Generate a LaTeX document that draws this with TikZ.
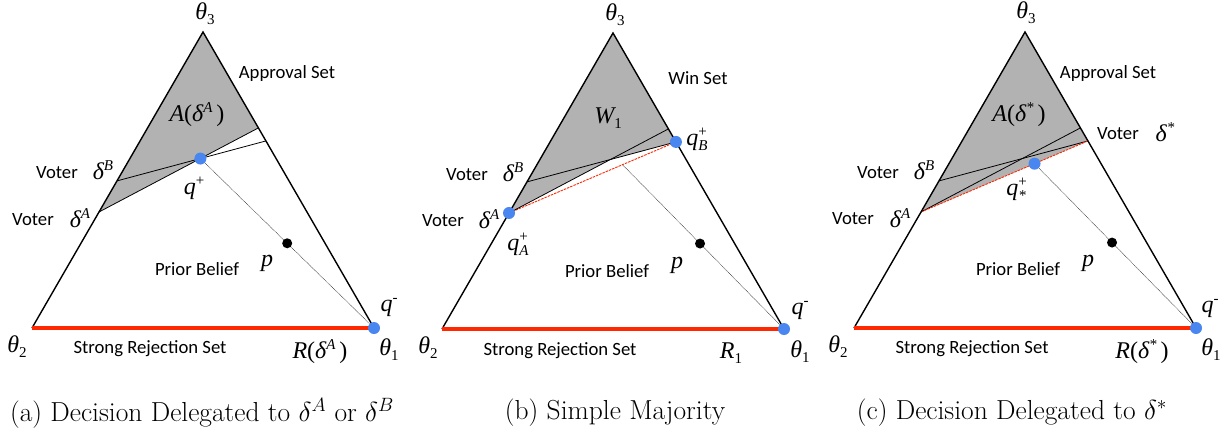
\documentclass[tikz,border=0pt]{standalone}
\usepackage{fix-cm}
\usepackage{fontspec}
\usetikzlibrary{calc}
\newfontfamily\tms{Liberation Serif}
\newfontfamily\cbr{Carlito}
\definecolor{greyfill}{RGB}{178,178,178}
\definecolor{dotblue}{RGB}{74,134,240}
\definecolor{rejred}{RGB}{255,40,0}
\newcommand\dn[1]{\raisebox{-5pt}{\fontsize{15}{15}\selectfont #1}}
\newcommand\up[1]{\raisebox{9pt}{\fontsize{15}{15}\selectfont #1}}
\newcommand\ud[2]{\rlap{\up{#1}}\dn{#2}}
\tikzset{
  edge/.style={line width=1.4pt, line join=miter},
  sepline/.style={line width=0.8pt},
  guide/.style={line width=0.5pt, draw=black!75, dash pattern=on 1pt off 0.6pt},
  hull/.style={line width=0.9pt, draw=rejred, dash pattern=on 2.5pt off 1pt},
  bdot/.style={circle, fill=dotblue, inner sep=0pt, minimum size=12pt},
  pdot/.style={circle, fill=black, inner sep=0pt, minimum size=10pt},
  txt/.style={font=\cbr\fontsize{18.7}{18.7}\selectfont, inner sep=0pt},
  lbl/.style={inner sep=0pt, font=\tms\itshape\fontsize{24}{24}\selectfont},
  captxt/.style={font=\fontsize{27.5}{30}\selectfont, inner sep=0pt},
}
\newcommand\geom[1]{%
  \coordinate (#1t2) at (32,328);
  \coordinate (#1t1) at (374,328);
  \coordinate (#1t3) at (203,32);
  \coordinate (#1dA) at ($(#1t2)!0.392!(#1t3)$);
  \coordinate (#1dB) at ($(#1t2)!0.497!(#1t3)$);
  \coordinate (#1rA) at ($(#1t1)!0.676!(#1t3)$);
  \coordinate (#1rB) at ($(#1t1)!0.632!(#1t3)$);
  \coordinate (#1qp) at (intersection of #1dA--#1rA and #1dB--#1rB);
}
\newcommand\trioutline[1]{%
  \draw[edge] (#1t2) -- (#1t3) -- (#1t1);
  \draw[line width=1.2pt] ([yshift=-1.5pt]#1t2) -- ([yshift=-1.5pt]#1t1);
  \draw[rejred, line width=3.5pt] (#1t2) -- (#1t1);
}
\begin{document}
\begin{tikzpicture}[x=1pt,y=-1pt]
\useasboundingbox (0,0) rectangle (1228,440);
% ---------------- panel (a)
\begin{scope}
\geom{a}
\fill[greyfill] (at3) -- (adA) -- (arA) -- cycle;
\draw[sepline] (adA) -- (arA);
\draw[sepline] (adB) -- (arB);
\draw[guide] (aqp) -- (at1);
\node[pdot] (ap) at ($(aqp)!0.5!(at1)$) {};
\trioutline{a}
\node[bdot] (aqpd) at (aqp) {};
\node[bdot] (aqm) at (at1) {};
\node[lbl] (alt3) at (205,14) {θ\dn{\upshape 3}};
\node[txt] (aapp) at (287,74) {Approval Set};
\node[lbl] (aA) at (197,115) {A{\upshape (}δ\up{A}{\upshape\,)}};
\node[txt] (avb) at (57,173) {Voter};
\node[lbl] (aldB) at (103,170) {δ\up{B}};
\node[txt] (ava) at (33,220) {Voter};
\node[lbl] (aldA) at (80,218) {δ\up{A}};
\node[lbl] (alqp) at (194,188) {q\up{\upshape +}};
\node[txt] (aprior) at (197,269) {Prior Belief};
\node[lbl] (alp) at (267,263) {p};
\node[lbl] (alqm) at (389,307) {q\up{\upshape -}};
\node[lbl] (alt1) at (389,350) {θ\dn{\upshape 1}};
\node[lbl] (alt2) at (17,347) {θ\dn{\upshape 2}};
\node[txt] (arej) at (150,349) {Strong Rejection Set};
\node[lbl] (aR) at (320,352) {R{\upshape (}δ\up{A}{\upshape\,)}};
\node[captxt] (acap) at (202,413) {(a)\ Decision Delegated to $\delta^A$ or $\delta^B$};
\end{scope}
% ---------------- panel (b)
\begin{scope}[shift={(410,1)}]
\geom{b}
\fill[greyfill] (bt3) -- (bdA) -- (bqp) -- (brB) -- cycle;
\draw[hull] (bdA) -- (brB);
\draw[sepline] (bdA) -- (brA);
\draw[sepline] (bdB) -- (brB);
\coordinate (bg) at ($(bdA)!0.68!(brB)$);
\draw[guide] (bg) -- (bt1);
\node[pdot] (bp) at ($(bg)!0.48!(bt1)$) {};
\trioutline{b}
\node[bdot] (bqa) at (bdA) {};
\node[bdot] (bqb) at (brB) {};
\node[bdot] (bqm) at (bt1) {};
\node[lbl] (blt3) at (205,14) {θ\dn{\upshape 3}};
\node[txt] (bwin) at (288,77) {Win Set};
\node[lbl] (bW) at (198,117) {W\dn{\upshape 1}};
\node[lbl] (blqb) at (287,138) {q\ud{\upshape +}{B}};
\node[txt] (bvb) at (57,174) {Voter};
\node[lbl] (bldB) at (103,171) {δ\up{B}};
\node[txt] (bva) at (33,220) {Voter};
\node[lbl] (bldA) at (79,218) {δ\up{A}};
\node[lbl] (blqa) at (108,243) {q\ud{\upshape +}{A}};
\node[txt] (bprior) at (197,270) {Prior Belief};
\node[lbl] (blp) at (267,264) {p};
\node[lbl] (blqm) at (390,309) {q\up{\upshape -}};
\node[lbl] (blt1) at (390,351) {θ\dn{\upshape 1}};
\node[lbl] (blt2) at (18,347) {θ\dn{\upshape 2}};
\node[txt] (brej) at (150,350) {Strong Rejection Set};
\node[lbl] (bR) at (321,352) {R\dn{\upshape 1}};
\node[captxt] (bcap) at (205,412) {(b)\ Simple Majority};
\end{scope}
% ---------------- panel (c)
\begin{scope}[shift={(822,0)}]
\geom{c}
\fill[greyfill] (ct3) -- (cdA) -- (crB) -- cycle;
\draw[sepline] (cdA) -- (crA);
\draw[sepline] (cdB) -- (crB);
\draw[hull] (cdA) -- (crB);
\coordinate (cg) at ($(cdA)!0.68!(crB)$);
\draw[guide] (cg) -- (ct1);
\node[pdot] (cp) at ($(cg)!0.48!(ct1)$) {};
\trioutline{c}
\node[bdot] (cqs) at (cg) {};
\node[bdot] (cqm) at (ct1) {};
\node[lbl] (clt3) at (204,13) {θ\dn{\upshape 3}};
\node[txt] (capp) at (286,74) {Approval Set};
\node[lbl] (cA) at (197,115) {A{\upshape (}δ\up{*}{\upshape\,)}};
\node[txt] (cvs) at (296,134) {Voter};
\node[lbl] (clds) at (343,132) {δ\up{*}};
\node[txt] (cvb) at (56,173) {Voter};
\node[lbl] (cldB) at (102,170) {δ\up{B}};
\node[lbl] (clqs) at (194,189) {q\ud{\upshape +}{*}};
\node[txt] (cva) at (31,219) {Voter};
\node[lbl] (cldA) at (78,218) {δ\up{A}};
\node[txt] (cprior) at (196,269) {Prior Belief};
\node[lbl] (clp) at (266,263) {p};
\node[lbl] (clqm) at (388,308) {q\up{\upshape -}};
\node[lbl] (clt1) at (389,350) {θ\dn{\upshape 1}};
\node[lbl] (clt2) at (16,347) {θ\dn{\upshape 2}};
\node[txt] (crej) at (150,349) {Strong Rejection Set};
\node[lbl] (cR) at (320,352) {R{\upshape (}δ\up{*}{\upshape\,)}};
\node[captxt] (ccap) at (190,413) {(c)\ Decision Delegated to $\delta^*$};
\end{scope}
\end{tikzpicture}
\end{document}
